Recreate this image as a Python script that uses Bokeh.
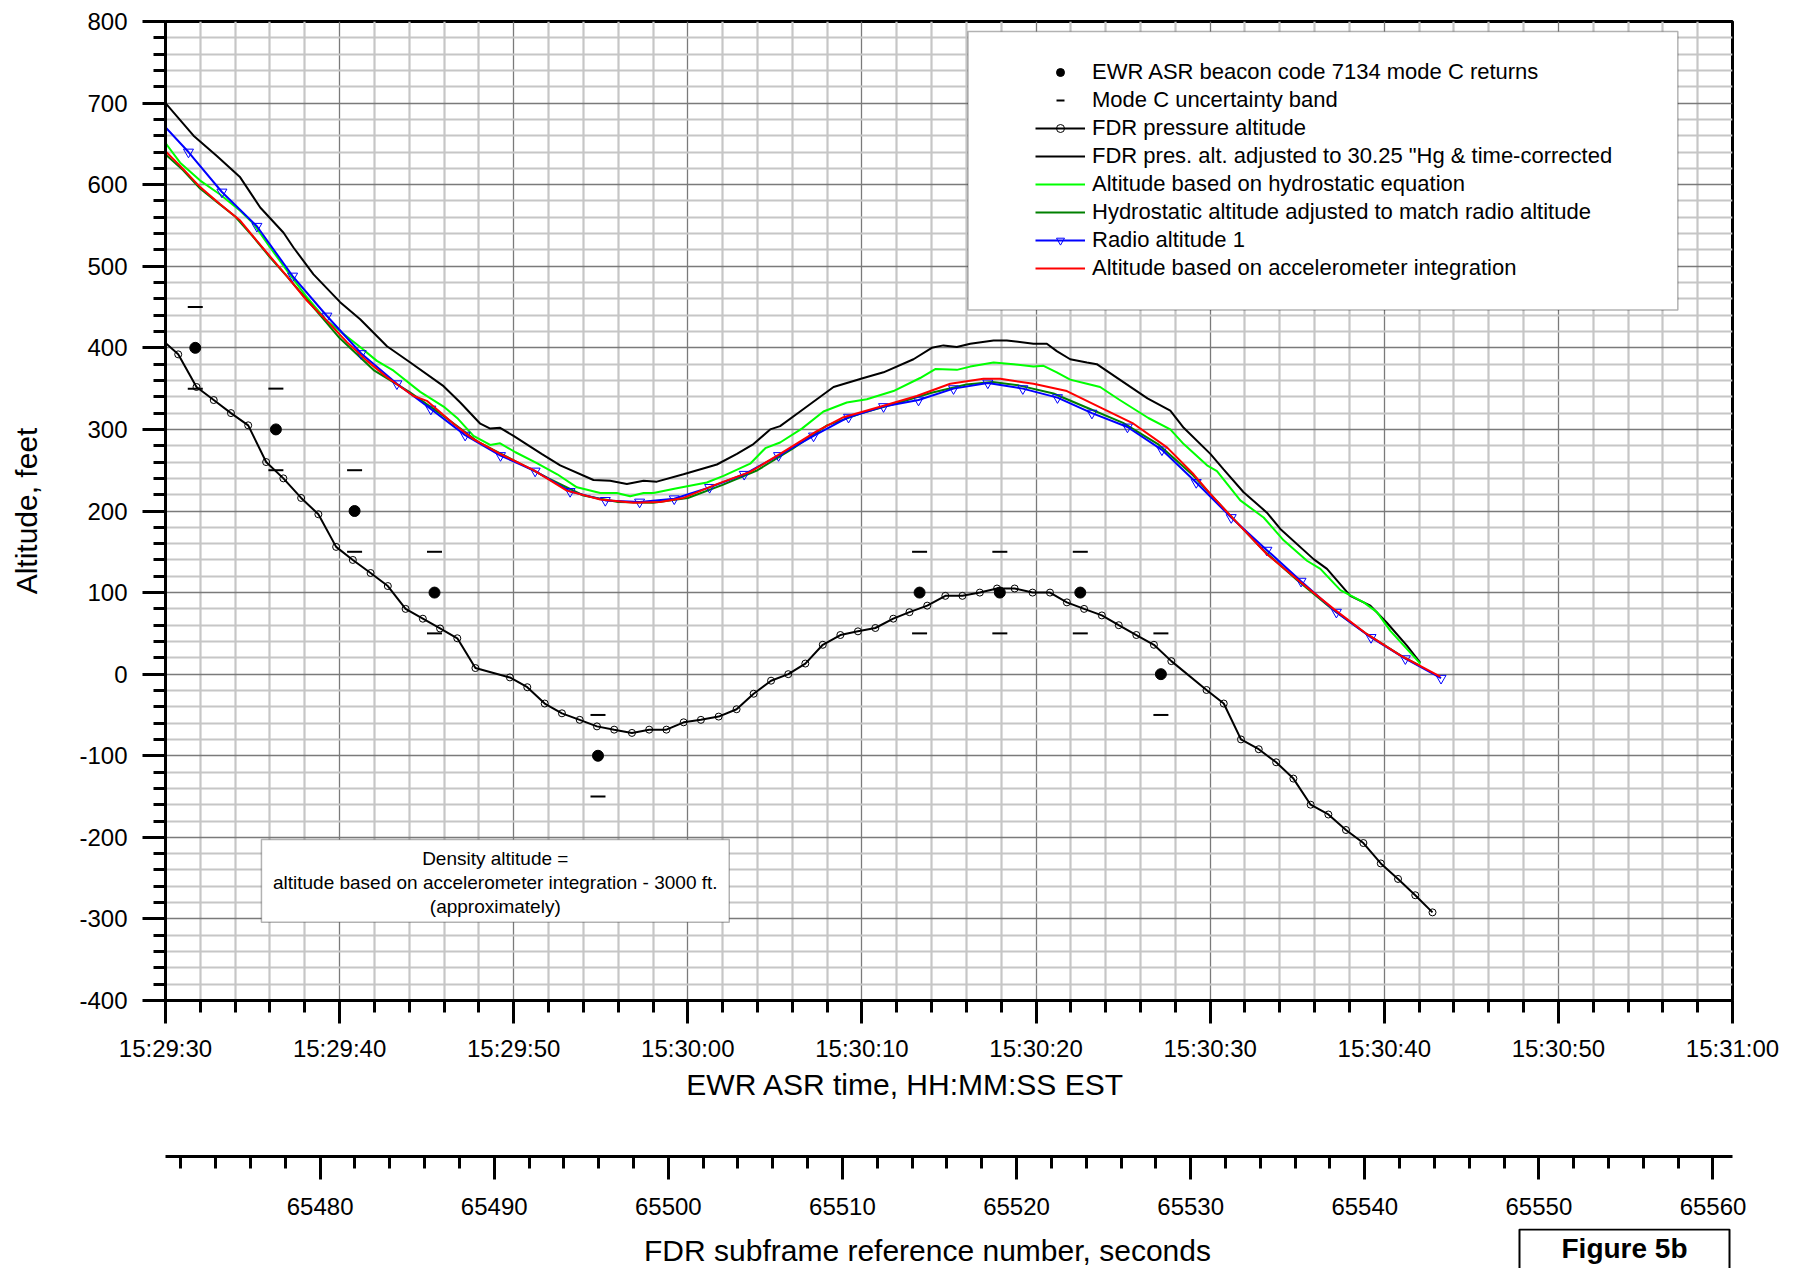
from bokeh.plotting import figure
from bokeh.layouts import column
from bokeh.models import (Range1d, LinearAxis, FixedTicker, Legend, LegendItem,
                          BoxAnnotation, Label, NumeralTickFormatter)
from bokeh.embed import file_html
from bokeh.resources import INLINE

FONT = "Liberation Sans"

# ---------------- data ----------------
# time in seconds after 15:29:30 EST (EWR ASR time)
time_ticks = [0, 10, 20, 30, 40, 50, 60, 70, 80, 90]
time_tick_labels = ["15:29:30", "15:29:40", "15:29:50", "15:30:00", "15:30:10",
                    "15:30:20", "15:30:30", "15:30:40", "15:30:50", "15:31:00"]
fdr_ticks = [65480, 65490, 65500, 65510, 65520, 65530, 65540, 65550, 65560]
fdr_at_time_zero = 65471.12          # FDR subframe number at 15:29:30
y_ticks = [-400, -300, -200, -100, 0, 100, 200, 300, 400, 500, 600, 700, 800]
y_tick_labels = ["-400", "-300", "-200", "-100", "0", "100", "200", "300", "400",
                 "500", "600", "700", "800"]

# EWR ASR beacon code 7134 mode C returns
beacon_t = [1.71, 6.34, 10.86, 15.45, 24.84, 43.31, 47.92, 52.54, 57.17]
beacon_alt = [400, 300, 200, 100, -100, 100, 100, 100, 0]
# Mode C uncertainty band
band_hi = [450, 350, 250, 150, -50, 150, 150, 150, 50]
band_lo = [350, 250, 150, 50, -150, 50, 50, 50, -50]

# FDR pressure altitude
fdr_t = [-0.26, 0.73, 1.78, 2.77, 3.76, 4.75, 5.78, 6.77, 7.79, 8.78, 9.80, 10.76,
         11.78, 12.77, 13.79, 14.78, 15.77, 16.76, 17.80, 19.78, 20.78, 21.78, 22.77,
         23.79, 24.78, 25.77, 26.79, 27.78, 28.77, 29.76, 30.75, 31.77, 32.80, 33.78,
         34.78, 35.77, 36.75, 37.75, 38.76, 39.77, 40.77, 41.80, 42.73, 43.75, 44.79,
         45.77, 46.77, 47.76, 48.77, 49.80, 50.80, 51.77, 52.76, 53.78, 54.75, 55.76,
         56.77, 57.77, 59.79, 60.78, 61.77, 62.79, 63.79, 64.78, 65.77, 66.79, 67.80,
         68.80, 69.80, 70.79, 71.78, 72.77]
fdr_alt = [411, 392, 352, 336, 320, 305, 260, 240, 216, 196, 156, 140,
           124, 108, 80, 68, 56, 44, 7.5, -4, -16, -36, -48,
           -56, -64, -68, -72, -68, -68, -59, -56, -52, -43, -24,
           -8, 0, 13, 36, 48, 52.5, 56.6, 68, 76, 84, 96,
           96, 100, 105, 105, 100, 100, 88, 80, 72, 60, 48,
           36, 16, -19.4, -36, -80, -92, -108, -128, -160, -172, -191,
           -207, -232, -251, -271, -292]

# FDR pressure altitude adjusted to 30.25 "Hg & time-corrected
adj_t = [0, 1.61, 2.95, 4.29, 5.44, 6.78, 7.35, 8.5, 10.03, 11.18, 12.72, 14.06,
         15.97, 16.93, 18.08, 18.65, 19.22, 19.99, 21.6, 22.67, 24.58, 25.54, 26.5,
         27.46, 28.22, 29.75, 31.67, 32.82, 33.77, 34.73, 35.3, 36.45, 38.37, 40.09,
         41.24, 42.96, 44.01, 44.68, 45.45, 46.22, 47.56, 48.32, 49.85, 50.62, 51.19,
         51.96, 52.92, 53.49, 54.74, 56.4, 57.71, 58.48, 60.01, 60.77, 61.92, 63.26,
         64.03, 65.94, 66.71, 68.05, 69.2, 70.15, 71.3, 72.07]
adj_alt = [700, 660, 635, 609, 572, 541, 523, 490, 456, 435, 402, 382,
           353, 333, 307, 301, 302, 292, 270, 256, 238, 237, 233,
           237, 236, 245, 257, 270, 282, 300, 304, 322, 352, 363,
           370, 386, 400, 403, 401, 405, 409, 409, 405, 405, 396,
           386, 382, 380, 362, 338, 323, 302, 270, 251, 223, 198,
           178, 141, 129, 96, 84, 63, 35, 14]

# Altitude based on hydrostatic equation
hyd_t = [0, 0.84, 1.99, 3.14, 4.29, 5.06, 6.01, 6.97, 8.12, 9.27, 10.23, 11.18,
         12.14, 13.1, 14.63, 15.97, 16.8, 17.69, 18.65, 19.22, 20.1, 21.3, 22.5,
         23.63, 24.97, 25.92, 26.69, 27.46, 28.03, 29.37, 31.09, 32.05, 33.58, 34.45,
         35.3, 36.55, 37.79, 39.13, 40.28, 41.81, 43.34, 44.21, 45.45, 46.22, 47.56,
         48.71, 49.85, 50.43, 51.19, 51.96, 52.92, 53.68, 54.74, 56.45, 57.71, 58.48,
         59.82, 60.39, 61.73, 63.07, 64.22, 65.56, 66.33, 67.48, 68.82, 69.58, 70.35,
         72.07]
hyd_alt = [651, 627, 605, 588, 568, 552, 523, 495, 462, 433, 417, 401,
           384, 372, 346, 328, 313, 292, 281, 283, 272, 259, 245,
           229, 222, 222, 218, 222, 222, 228, 235, 243, 258, 277,
           284, 301, 322, 333, 337, 347, 363, 374, 373, 377, 382,
           380, 377, 378, 370, 361, 356, 352, 337, 314, 300, 282,
           256, 249, 213, 192, 164, 139, 129, 103, 88, 76, 53,
           13]

# Hydrostatic altitude adjusted to match radio altitude
hyd_adj_t = [0, 1, 2, 3, 4, 5, 6, 7, 8, 9, 10, 12, 14, 16, 18, 20, 22, 24, 26, 28,
             30, 32, 34, 36, 38, 40, 42, 44, 46, 47.5, 49, 51, 53, 55, 57, 59, 61,
             63, 65, 67, 69, 71, 72.07]
hyd_adj_alt = [637, 618, 595, 578, 561, 537, 511, 487, 462, 437, 412, 372, 346, 316,
               284, 262, 240, 219, 211, 210, 216, 232, 250, 276, 305, 320, 332, 345,
               355, 358, 354, 344, 326, 308, 282, 244, 198, 153, 115, 80, 49, 22, 10]

# Radio altitude 1
radio_t = [-0.68, 1.32, 3.24, 5.25, 7.3, 9.27, 11.24, 13.29, 15.24, 17.21, 19.24,
           21.23, 23.24, 25.26, 27.23, 29.22, 31.25, 33.24, 35.21, 37.22, 39.23,
           41.24, 43.25, 45.26, 47.23, 49.24, 51.23, 53.21, 55.25, 57.23, 59.2,
           61.21, 63.26, 65.22, 67.25, 69.24, 71.21, 73.26]
radio_alt = [686, 640, 591, 549, 488, 439, 393, 356, 325, 293, 268,
             249, 224, 213, 211, 215, 229, 245, 268, 292, 315,
             328, 336, 350, 357, 350, 339, 320, 303, 275, 235,
             192, 152, 114, 76, 45, 19, -5]

# Altitude based on accelerometer integration
acc_t = [0, 0.84, 1.99, 3.14, 4.29, 5.25, 6.21, 6.97, 8.12, 9.27, 10.42, 11.57,
         12.72, 14.25, 15.01, 15.78, 16.54, 17.69, 19.22, 21.14, 23.05, 24.97, 26.88,
         28.41, 29.75, 31.67, 33.58, 35.3, 37.41, 38.94, 41.24, 43.15, 45.07, 46.98,
         47.94, 49.85, 51.77, 53.68, 55.6, 57.52, 59.05, 60.01, 61.35, 63.26, 65.18,
         67.09, 69.01, 70.92, 73.22]
acc_alt = [641, 623, 597, 576, 556, 531, 507, 488, 458, 433, 407, 384,
           364, 341, 335, 321, 307, 288, 270, 250, 225, 214, 210,
           211, 216, 233, 248, 270, 298, 315, 329, 341, 356, 362,
           362, 356, 347, 327, 307, 278, 245, 221, 190, 147, 113,
           80, 49, 23, -3]

legend_labels = [
    "EWR ASR beacon code 7134 mode C returns",
    "Mode C uncertainty band",
    "FDR pressure altitude",
    'FDR pres. alt. adjusted to 30.25 "Hg & time-corrected',
    "Altitude based on hydrostatic equation",
    "Hydrostatic altitude adjusted to match radio altitude",
    "Radio altitude 1",
    "Altitude based on accelerometer integration",
]
note_lines = ["Density altitude =",
              "altitude based on accelerometer integration - 3000 ft.",
              "(approximately)"]
x_title = "EWR ASR time, HH:MM:SS EST"
fdr_title = "FDR subframe reference number, seconds"
y_title = "Altitude, feet"
tag_text = "Figure 5b"

# ---------------- layout constants (page pixels) ----------------
W = 1801
LEFT, RIGHT = 165, 69
TOP, FRAME_H = 21, 979
Y1 = 1066          # bottom of main figure
Y_FDR = 1156       # FDR subframe axis line
Y2 = 1228          # top of the last strip
Y_END = 1268
T0, T1 = 0, 90

# ---------------- main figure ----------------
p = figure(width=W, height=Y1, x_range=Range1d(T0, T1), y_range=Range1d(-400, 800),
           output_backend="svg", toolbar_location=None,
           min_border_left=LEFT, min_border_right=RIGHT, min_border_top=TOP,
           min_border_bottom=Y1 - TOP - FRAME_H, background_fill_color="white",
           border_fill_color="white")
p.outline_line_color = "black"
p.outline_line_width = 3

time_minor = [v for v in range(T0, T1 + 1, 2) if v not in time_ticks]
y_minor = [v for v in range(-400, 801, 20) if v not in y_ticks]
fdr_minor = [v for v in range(65472, 65561, 2) if v not in fdr_ticks]

time_ticker = FixedTicker(ticks=time_ticks, minor_ticks=time_minor)
y_ticker = FixedTicker(ticks=y_ticks, minor_ticks=y_minor)


def style_axis(ax, standoff):
    ax.axis_line_width = 3
    ax.axis_line_color = "black"
    ax.major_tick_out = 23
    ax.major_tick_in = 0
    ax.minor_tick_out = 12
    ax.minor_tick_in = 0
    ax.major_tick_line_width = 3
    ax.minor_tick_line_width = 3
    ax.major_tick_line_color = "black"
    ax.minor_tick_line_color = "black"
    ax.major_label_standoff = standoff
    ax.major_label_text_font = FONT
    ax.major_label_text_font_size = "24px"
    ax.major_label_text_color = "black"


tax = p.xaxis[0]
tax.ticker = time_ticker
tax.major_label_overrides = {t: s for t, s in zip(time_ticks, time_tick_labels)}
style_axis(tax, 11)

yax = p.yaxis[0]
yax.ticker = y_ticker
yax.major_label_overrides = {t: s for t, s in zip(y_ticks, y_tick_labels)}
style_axis(yax, 15)
yax.axis_label = y_title
yax.axis_label_text_font = FONT
yax.axis_label_text_font_size = "30px"
yax.axis_label_text_font_style = "normal"
yax.axis_label_text_color = "black"
yax.axis_label_standoff = 33

p.xgrid[0].ticker = time_ticker
p.ygrid[0].ticker = y_ticker
for g in (p.xgrid[0], p.ygrid[0]):
    g.grid_line_color = "#7a7a7a"
    g.grid_line_width = 1.3
    g.minor_grid_line_color = "#c6c6c6"
    g.minor_grid_line_width = 2.2

# ---------------- series ----------------
fdr_line = p.line(fdr_t, fdr_alt, line_color="black", line_width=2)
fdr_pts = p.scatter(fdr_t, fdr_alt, marker="circle", size=7, line_color="black",
                    line_width=1, fill_color=None)
adj_r = p.line(adj_t, adj_alt, line_color="black", line_width=2)
hyd_r = p.line(hyd_t, hyd_alt, line_color="#00ff00", line_width=2)
hyd_adj_r = p.line(hyd_adj_t, hyd_adj_alt, line_color="#008000", line_width=2)
radio_line = p.line(radio_t, radio_alt, line_color="#0000ff", line_width=2)
radio_pts = p.scatter(radio_t, radio_alt, marker="inverted_triangle", size=10,
                      line_color="#0000ff", line_width=1, fill_color=None)
acc_r = p.line(acc_t, acc_alt, line_color="#ff0000", line_width=2)

band_hi_r = p.scatter(beacon_t, band_hi, marker="dash", size=15, line_color="black",
                      line_width=2)
band_lo_r = p.scatter(beacon_t, band_lo, marker="dash", size=15, line_color="black",
                      line_width=2)
beacon_r = p.scatter(beacon_t, beacon_alt, marker="circle", size=11,
                     fill_color="black", line_color="black")

# ---------------- legend ----------------
legend_box = BoxAnnotation(left=46.09, right=86.86, top=787.7, bottom=446.3,
                           fill_color="white", fill_alpha=1, line_color="black",
                           line_width=1.5)
p.add_layout(legend_box)

items = [
    LegendItem(label=legend_labels[0], renderers=[beacon_r]),
    LegendItem(label=legend_labels[1], renderers=[band_hi_r]),
    LegendItem(label=legend_labels[2], renderers=[fdr_line, fdr_pts]),
    LegendItem(label=legend_labels[3], renderers=[adj_r]),
    LegendItem(label=legend_labels[4], renderers=[hyd_r]),
    LegendItem(label=legend_labels[5], renderers=[hyd_adj_r]),
    LegendItem(label=legend_labels[6], renderers=[radio_line, radio_pts]),
    LegendItem(label=legend_labels[7], renderers=[acc_r]),
]
legend = Legend(items=items, location=(870, 718), padding=0, margin=0, spacing=0,
                label_height=28, glyph_height=20, glyph_width=50, label_standoff=7,
                label_text_font=FONT, label_text_font_size="22px",
                label_text_color="black",
                border_line_color=None, background_fill_alpha=0)
p.add_layout(legend)

# ---------------- note box ----------------
note_box = BoxAnnotation(left=5.51, right=32.38, top=-202.8, bottom=-304.2,
                         fill_color="white", fill_alpha=1, line_color="black",
                         line_width=1.5)
p.add_layout(note_box)
for txt, yy in zip(note_lines, [-226.5, -255.1, -284.9]):
    p.add_layout(Label(x=18.94, y=yy, text=txt, text_align="center",
                       text_baseline="middle", text_font=FONT,
                       text_font_size="19px", text_color="black"))


def strip(y_top, y_bottom, frame_bottom):
    """A blank strip whose x/y ranges are page pixels (y pointing down)."""
    f = figure(width=W, height=y_bottom - y_top, x_range=Range1d(LEFT, W - RIGHT),
               y_range=Range1d(frame_bottom, y_top), output_backend="svg",
               toolbar_location=None, x_axis_location=None, y_axis_location=None,
               min_border_left=LEFT, min_border_right=RIGHT, min_border_top=0,
               min_border_bottom=y_bottom - frame_bottom,
               background_fill_color="white", border_fill_color="white",
               outline_line_color=None)
    f.grid.visible = False
    return f


# ---------------- strip 2: time axis title + FDR subframe axis ----------------
q = strip(Y1, Y2, Y_FDR)
q.extra_x_ranges = {"fdr": Range1d(fdr_at_time_zero, fdr_at_time_zero + (T1 - T0))}
fax = LinearAxis(x_range_name="fdr",
                 ticker=FixedTicker(ticks=fdr_ticks, minor_ticks=fdr_minor),
                 formatter=NumeralTickFormatter(format="0"))
style_axis(fax, 18)
q.add_layout(fax, "below")
q.add_layout(Label(x=905, y=1084, text=x_title, text_align="center",
                   text_baseline="middle", text_font=FONT,
                   text_font_size="30px", text_color="black"))

# ---------------- strip 3: FDR axis title + figure tag ----------------
r = strip(Y2, Y_END, Y_END)
r.add_layout(Label(x=927, y=1250, text=fdr_title, text_align="center",
                   text_baseline="middle", text_font=FONT,
                   text_font_size="30px", text_color="black"))
r.add_layout(Label(x=1624, y=1251, text=tag_text, text_align="center",
                   text_baseline="middle", text_font=FONT, text_font_size="28px",
                   text_font_style="bold", text_color="black",
                   border_line_color="black", border_line_width=2,
                   background_fill_color="white",
                   padding=dict(top=3, right=42, bottom=10, left=42)))

layout = column(p, q, r, spacing=0)
open("out.html", "w").write(file_html(layout, INLINE))
